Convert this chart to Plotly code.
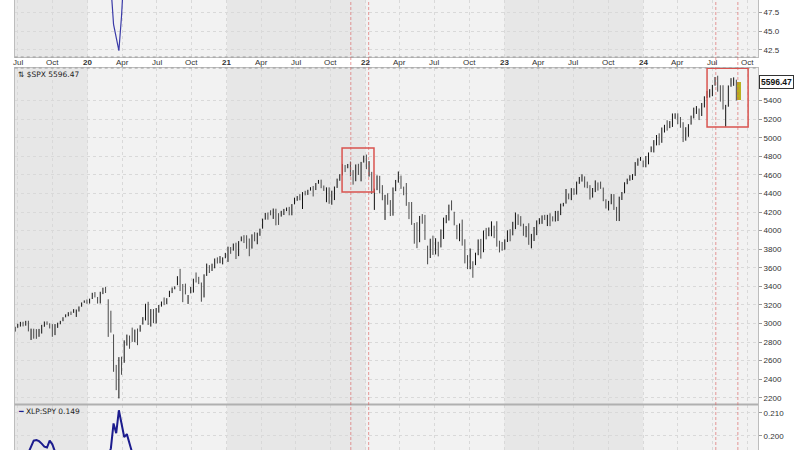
import pandas as pd
import plotly.graph_objects as go

# ---------------- data ----------------
# weekly $SPX bars (weeks starting 2019-06-24)
spx_open = [
    2934, 2971, 2980, 3013, 2981, 3017, 2899, 2896, 2898, 2866, 2909, 2981, 2996, 2983, 2968, 2944, 2965, 2996, 3035, 3078, 3081, 3123, 3117, 3143, 3141, 3183, 3225,
    3248, 3218, 3273, 3333, 3248, 3235, 3318, 3370, 3257, 2974, 2864, 2509, 2290, 2498, 2578, 2782, 2845, 2854, 2816, 2915, 2914, 3004, 3038, 3199, 2994, 3094,
    3018, 3155, 3191, 3224, 3219, 3288, 3357, 3380, 3419, 3507, 3370, 3364, 3296, 3334, 3367, 3500, 3493, 3441, 3296, 3584, 3600, 3566, 3654, 3698, 3675, 3684, 3723,
    3764, 3803, 3789, 3858, 3732, 3892, 3939, 3886, 3843, 3844, 3949, 3916, 3969, 4034, 4127, 4182, 4185, 4192, 4228, 4169, 4168, 4216, 4230, 4255, 4174,
    4285, 4348, 4373, 4296, 4410, 4407, 4439, 4464, 4450, 4514, 4535, 4474, 4402, 4450, 4348, 4385, 4463, 4548, 4610, 4697, 4689, 4712, 4640, 4549, 4710, 4587, 4733,
    4778, 4655, 4632, 4357, 4437, 4506, 4416, 4333, 4363, 4328, 4188, 4462, 4541, 4547, 4474, 4385, 4255, 4131, 4082, 4013, 3920, 4152, 4135, 3838, 3715,
    3920, 3816, 3880, 3884, 3967, 4113, 4157, 4270, 4195, 4042, 3910, 4084, 3872, 3682, 3610, 3593, 3638, 3754, 3884, 3789, 3977, 3956, 4006, 4053, 3939, 3853, 3843,
    3853, 3910, 3999, 3979, 4053, 4120, 4096, 4071, 3992, 4049, 3859, 3917, 3983, 4103, 4110, 4136, 4134, 4166, 4136, 4126, 4190, 4200, 4282, 4305, 4397, 4355,
    4450, 4405, 4505, 4544, 4578, 4492, 4454, 4389, 4415, 4518, 4475, 4446, 4320, 4284, 4289, 4320, 4220, 4139, 4364, 4407, 4515, 4554, 4590, 4607, 4725, 4758,
    4745, 4690, 4772, 4853, 4888, 4957, 5026, 5000, 5093, 5131, 5115, 5123, 5219, 5258, 5203, 5150, 4988, 5114, 5142, 5221, 5303, 5315,
    5298, 5341, 5432, 5459, 5471, 5572, 5616, 5518, 5476, 5151, 5350, 5555, 5637, 5623, 5442,
]
spx_high = [
    2964, 2996, 3017, 3018, 3028, 3029, 2944, 2943, 2939, 2941, 2985, 3021, 3022, 3002, 2993, 2993, 3008, 3028, 3067, 3098, 3121, 3128, 3154, 3150, 3183, 3226, 3248,
    3258, 3267, 3330, 3338, 3285, 3341, 3385, 3393, 3260, 3137, 2882, 2553, 2637, 2642, 2818, 2880, 2870, 2955, 2934, 2945, 2981, 3068, 3212, 3233, 3155, 3155,
    3166, 3199, 3236, 3280, 3272, 3352, 3387, 3400, 3509, 3588, 3425, 3429, 3306, 3393, 3482, 3549, 3502, 3441, 3529, 3645, 3628, 3644, 3700, 3712, 3726, 3712, 3760,
    3827, 3823, 3861, 3870, 3887, 3937, 3951, 3950, 3915, 3960, 3983, 3978, 4021, 4129, 4191, 4195, 4219, 4238, 4236, 4188, 4213, 4234, 4249, 4256, 4286,
    4355, 4372, 4393, 4415, 4429, 4440, 4468, 4481, 4513, 4546, 4549, 4486, 4466, 4466, 4430, 4475, 4560, 4608, 4718, 4707, 4718, 4744, 4652, 4713, 4720, 4740, 4808,
    4819, 4749, 4633, 4453, 4595, 4590, 4490, 4385, 4402, 4329, 4465, 4546, 4637, 4593, 4474, 4513, 4308, 4308, 4082, 4091, 4158, 4178, 4169, 3838, 3913,
    3946, 3918, 3880, 4013, 4140, 4168, 4280, 4326, 4203, 4062, 4077, 4119, 3907, 3736, 3807, 3670, 3762, 3905, 3911, 4001, 4029, 4034, 4100, 4053, 4101, 3891, 3878,
    3906, 4003, 4015, 4095, 4195, 4176, 4156, 4075, 4049, 4079, 3965, 4039, 4110, 4134, 4164, 4170, 4170, 4187, 4154, 4212, 4213, 4291, 4299, 4448, 4400, 4458,
    4456, 4528, 4578, 4607, 4584, 4528, 4490, 4459, 4541, 4519, 4528, 4464, 4338, 4320, 4394, 4393, 4256, 4366, 4416, 4521, 4560, 4597, 4609, 4738, 4778, 4793,
    4755, 4803, 4842, 4907, 4975, 5030, 5048, 5111, 5140, 5189, 5180, 5262, 5264, 5264, 5224, 5168, 5114, 5147, 5239, 5325, 5342, 5316,
    5375, 5447, 5505, 5524, 5570, 5655, 5669, 5566, 5566, 5355, 5564, 5643, 5651, 5626, 5600,
]
spx_low = [
    2912, 2953, 2966, 2968, 2976, 2914, 2822, 2836, 2834, 2856, 2891, 2964, 2985, 2946, 2856, 2874, 2952, 2991, 3024, 3066, 3077, 3091, 3114, 3070, 3128, 3180, 3222,
    3212, 3214, 3263, 3280, 3214, 3215, 3316, 3328, 2855, 2901, 2479, 2281, 2192, 2447, 2576, 2761, 2727, 2801, 2798, 2766, 2911, 2987, 3032, 2983, 2966, 3004,
    2999, 3116, 3181, 3197, 3209, 3284, 3327, 3368, 3412, 3349, 3229, 3313, 3210, 3324, 3332, 3441, 3424, 3234, 3280, 3512, 3543, 3565, 3594, 3645, 3648, 3636, 3702,
    3663, 3750, 3784, 3694, 3725, 3885, 3866, 3805, 3724, 3806, 3885, 3853, 3944, 4021, 4118, 4118, 4165, 4126, 4057, 4061, 4151, 4168, 4210, 4165, 4165,
    4283, 4321, 4327, 4233, 4380, 4385, 4431, 4368, 4437, 4505, 4457, 4428, 4306, 4289, 4279, 4329, 4460, 4537, 4595, 4631, 4672, 4585, 4495, 4532, 4600, 4531, 4733,
    4662, 4582, 4395, 4223, 4436, 4401, 4327, 4115, 4279, 4157, 4161, 4425, 4517, 4450, 4381, 4267, 4124, 4062, 3859, 3811, 3875, 4074, 3900, 3637, 3705,
    3738, 3743, 3722, 3819, 3910, 4080, 4108, 4218, 4057, 3907, 3886, 3838, 3647, 3585, 3584, 3492, 3628, 3735, 3698, 3767, 3906, 3940, 3939, 3919, 3827, 3765, 3783,
    3794, 3877, 3885, 3949, 4016, 4061, 4047, 3944, 3928, 3847, 3809, 3888, 3951, 4069, 4073, 4114, 4049, 4048, 4099, 4098, 4103, 4167, 4261, 4291, 4337, 4328,
    4385, 4389, 4504, 4528, 4464, 4457, 4335, 4356, 4415, 4431, 4450, 4317, 4238, 4217, 4284, 4223, 4104, 4103, 4330, 4402, 4500, 4537, 4546, 4589, 4699, 4752,
    4683, 4682, 4714, 4845, 4842, 4918, 4920, 4946, 5057, 5077, 5104, 5117, 5204, 5147, 5108, 4954, 4969, 5011, 5142, 5209, 5257, 5191,
    5235, 5327, 5429, 5434, 5448, 5562, 5497, 5390, 5305, 5120, 5335, 5550, 5560, 5402, 5406,
]
spx_close = [
    2942, 2990, 3014, 2977, 3026, 2932, 2919, 2889, 2847, 2926, 2979, 3007, 2992, 2962, 2952, 2970, 2986, 3023, 3067, 3093, 3120, 3110, 3141, 3146, 3169, 3221, 3240,
    3235, 3265, 3330, 3295, 3226, 3328, 3380, 3338, 2954, 2972, 2711, 2305, 2541, 2489, 2790, 2875, 2837, 2831, 2930, 2864, 2955, 3044, 3194, 3041, 3098, 3009,
    3130, 3185, 3225, 3216, 3271, 3351, 3373, 3397, 3508, 3427, 3341, 3319, 3298, 3348, 3477, 3484, 3465, 3270, 3509, 3585, 3558, 3638, 3699, 3663, 3709, 3703, 3756,
    3825, 3768, 3841, 3714, 3887, 3935, 3907, 3811, 3842, 3943, 3913, 3975, 4020, 4129, 4185, 4180, 4181, 4233, 4174, 4156, 4204, 4230, 4247, 4166, 4281,
    4352, 4370, 4327, 4412, 4395, 4437, 4468, 4442, 4509, 4535, 4459, 4433, 4455, 4357, 4391, 4471, 4545, 4605, 4698, 4683, 4698, 4595, 4538, 4712, 4621, 4726, 4766,
    4677, 4663, 4398, 4432, 4501, 4419, 4349, 4385, 4329, 4204, 4463, 4543, 4546, 4488, 4393, 4272, 4132, 4123, 4024, 3901, 4158, 4109, 3901, 3675, 3912,
    3825, 3899, 3863, 3962, 4130, 4145, 4280, 4228, 4058, 3924, 4067, 3873, 3693, 3586, 3640, 3583, 3753, 3901, 3771, 3993, 3965, 4026, 4072, 3934, 3852, 3845, 3840,
    3895, 3999, 3973, 4071, 4136, 4090, 4079, 3970, 4046, 3862, 3917, 3971, 4109, 4105, 4138, 4134, 4169, 4136, 4124, 4192, 4205, 4282, 4299, 4410, 4348, 4450,
    4399, 4505, 4536, 4582, 4478, 4464, 4370, 4406, 4516, 4457, 4450, 4320, 4288, 4309, 4328, 4224, 4117, 4358, 4415, 4514, 4559, 4595, 4604, 4719, 4755, 4770,
    4697, 4784, 4840, 4891, 4959, 5027, 5006, 5089, 5137, 5124, 5117, 5234, 5254, 5204, 5123, 4967, 5100, 5128, 5223, 5303, 5305, 5278,
    5347, 5432, 5465, 5460, 5567, 5615, 5505, 5459, 5347, 5344, 5554, 5635, 5648, 5408, 5596.47,
]
n = min(len(spx_open), len(spx_high), len(spx_low), len(spx_close))
week_start = pd.date_range("2019-06-24", periods=n, freq="W-MON")

# upper indicator panel (only the part that dips into view)
ind_dates = ["2020-02-17", "2020-02-24", "2020-03-02", "2020-03-09", "2020-03-16",
             "2020-03-23", "2020-03-30", "2020-04-06", "2020-04-13"]
ind_values = [60, 56, 51, 45.9, 44.3, 42.4, 47.0, 54, 60]

# XLP:SPY ratio
ratio_dates = ["2019-06-24", "2019-07-08", "2019-07-22", "2019-07-29", "2019-08-05", "2019-08-12",
               "2019-08-19", "2019-08-26", "2019-09-02", "2019-09-09", "2019-09-16", "2019-09-23",
               "2019-09-30", "2019-10-07", "2019-10-21", "2019-11-18", "2019-12-16", "2020-01-13",
               "2020-02-10", "2020-02-24", "2020-03-02", "2020-03-09", "2020-03-16", "2020-03-23",
               "2020-03-30", "2020-04-06", "2020-04-13", "2020-04-20", "2020-04-27", "2020-06-15",
               "2020-09-14", "2020-12-14", "2021-03-15", "2021-06-14", "2021-09-13", "2021-12-13",
               "2022-03-14", "2022-06-13", "2022-09-12", "2022-12-12", "2023-03-13", "2023-06-12",
               "2023-09-11", "2023-12-11", "2024-03-11", "2024-06-10", "2024-09-09"]
ratio_values = [0.1915, 0.1905, 0.1900, 0.1925, 0.1950, 0.1978, 0.1981, 0.1976, 0.1965, 0.1952,
                0.1948, 0.1978, 0.1962, 0.1930, 0.1905, 0.1870, 0.1850, 0.1850, 0.1860, 0.1905,
                0.1945, 0.2054, 0.2011, 0.2112, 0.2060, 0.1994, 0.2007, 0.1955, 0.1925, 0.1850,
                0.1790, 0.1750, 0.1700, 0.1680, 0.1660, 0.1680, 0.1720, 0.1800, 0.1820, 0.1860,
                0.1780, 0.1690, 0.1650, 0.1590, 0.1510, 0.1480, 0.1490]

spx_last = 5596.47
ratio_last = 0.149

# annotations: marker lines and highlight boxes
marker_dates = ["2021-11-23", "2022-01-09", "2024-07-10", "2024-09-06"]
box_x0 = ["2021-10-31", "2024-06-17"]
box_x1 = ["2022-01-23", "2024-10-03"]
box_y0 = [4416, 5117]
box_y1 = [4890, 5750]

main_ticks = list(range(2200, 5401, 200))
top_ticks = [42.5, 45.0, 47.5]
bottom_ticks = [0.200, 0.210]
shade_years = [2019, 2021, 2023]

x_start, x_end = "2019-06-23", "2024-10-29"

# ---------------- figure ----------------
W, H = 800, 450
def py(px):
    return 1 - px / H

xdom = [14.7 / W, 758 / W]
top_dom = [py(57), 1.0]
main_dom = [py(404), py(68)]
bot_dom = [0.0, py(405)]

fig = go.Figure()

fig.add_trace(go.Scatter(x=ind_dates, y=ind_values, mode="lines",
                         line=dict(color="#3b3ba8", width=1.2),
                         xaxis="x", yaxis="y", showlegend=False, hoverinfo="skip"))

fig.add_trace(go.Ohlc(x=week_start[:n - 1], open=spx_open[:n - 1], high=spx_high[:n - 1],
                      low=spx_low[:n - 1], close=spx_close[:n - 1],
                      increasing=dict(line=dict(color="#111111", width=1)),
                      decreasing=dict(line=dict(color="#4a4a4a", width=1)),
                      tickwidth=0.5, xaxis="x2", yaxis="y2", showlegend=False))
# current (last) week highlighted
fig.add_trace(go.Ohlc(x=week_start[n - 1:], open=spx_open[n - 1:], high=spx_high[n - 1:],
                      low=spx_low[n - 1:], close=spx_close[n - 1:],
                      increasing=dict(line=dict(color="#b9b01c", width=4)),
                      decreasing=dict(line=dict(color="#b9b01c", width=4)),
                      tickwidth=0.5, xaxis="x2", yaxis="y2", showlegend=False))

fig.add_trace(go.Scatter(x=ratio_dates, y=ratio_values, mode="lines",
                         line=dict(color="#1c1c8e", width=2),
                         xaxis="x3", yaxis="y3", showlegend=False, hoverinfo="skip"))

tick_dates = pd.date_range("2019-07-01", "2024-10-01", freq="QS")
tick_text = [("<b>%02d</b>" % (d.year % 100)) if d.month == 1 else d.strftime("%b") for d in tick_dates]

axis_font = dict(family="Liberation Sans, Arial, sans-serif", size=8, color="#333333")
xcommon = dict(range=[x_start, x_end], type="date", domain=xdom, tickvals=tick_dates,
               showticklabels=False, ticks="", showgrid=True, gridcolor="#d9d9d9",
               griddash="dot", gridwidth=1, showline=True, linecolor="#bdbdbd",
               linewidth=1, mirror=True, zeroline=False, rangeslider=dict(visible=False))
ycommon = dict(side="right", showgrid=True, gridcolor="#d9d9d9", griddash="dot",
               showline=True, linecolor="#bdbdbd", linewidth=1, mirror=True,
               ticks="outside", ticklen=3, tickcolor="#999999", tickfont=axis_font,
               zeroline=False)

fig.update_layout(
    width=W, height=H, margin=dict(l=0, r=0, t=0, b=0),
    paper_bgcolor="white", plot_bgcolor="#f2f2f2",
    xaxis=dict(anchor="y", **xcommon),
    xaxis2=dict(anchor="y2", matches="x", **xcommon),
    xaxis3=dict(anchor="y3", matches="x", **xcommon),
    yaxis=dict(domain=top_dom, anchor="x", range=[41.57, 49.13], tickvals=top_ticks,
               tickformat=".1f", **ycommon),
    yaxis2=dict(domain=main_dom, anchor="x2", range=[2132, 5752], tickvals=main_ticks,
                tickformat="d", **ycommon),
    yaxis3=dict(domain=bot_dom, anchor="x3", range=[0.1937, 0.21352],
                tickvals=bottom_ticks, tickformat=".3f", **ycommon),
    showlegend=False,
    hovermode=False,
)

shapes = []
# alternating year shading
for yr in shade_years:
    x0 = max(pd.Timestamp(f"{yr}-01-01"), pd.Timestamp(x_start))
    x1 = min(pd.Timestamp(f"{yr + 1}-01-01"), pd.Timestamp(x_end))
    for xr, yr_ref in (("x", "y domain"), ("x2", "y2 domain"), ("x3", "y3 domain")):
        shapes.append(dict(type="rect", xref=xr, yref=yr_ref, x0=x0, x1=x1, y0=0, y1=1,
                           fillcolor="#e7e7e7", line=dict(width=0), layer="below"))
# date strip dotted borders
for ypx in (57, 68):
    shapes.append(dict(type="line", xref="paper", yref="paper", x0=xdom[0], x1=xdom[1],
                       y0=py(ypx), y1=py(ypx), line=dict(color="#9a9a9a", width=1, dash="dot")))
# separator between price and ratio panel
shapes.append(dict(type="line", xref="paper", yref="paper", x0=xdom[0], x1=xdom[1],
                   y0=py(404.5), y1=py(404.5), line=dict(color="#b0b0b0", width=2)))
# red dashed event lines
for d in marker_dates:
    shapes.append(dict(type="line", xref="x", yref="paper", x0=d, x1=d, y0=0, y1=1,
                       line=dict(color="rgba(220,90,90,0.6)", width=1, dash="3px,2px")))
# red highlight boxes
for a, b, c, e in zip(box_x0, box_x1, box_y0, box_y1):
    shapes.append(dict(type="rect", xref="x2", yref="y2", x0=a, x1=b, y0=c, y1=e,
                       line=dict(color="#d9534f", width=1.5), fillcolor="rgba(0,0,0,0)"))
fig.update_layout(shapes=shapes)

ann = []
for d, t in zip(tick_dates, tick_text):
    ann.append(dict(x=d, xref="x", y=py(62.5), yref="paper", text=t, showarrow=False,
                    xanchor="center", yanchor="middle", font=axis_font))
label_font = dict(family="DejaVu Sans, Verdana, sans-serif", size=7.5, color="#222222")
ann.append(dict(x=16 / W, xref="paper", y=py(75), yref="paper", xanchor="left", yanchor="middle",
                text="⇅ $SPX %.2f" % spx_last, showarrow=False, font=label_font))
ann.append(dict(x=16 / W, xref="paper", y=py(411), yref="paper", xanchor="left", yanchor="middle",
                text='<span style="color:#1c1c8e">━</span> XLP:SPY %.3f' % ratio_last,
                showarrow=False, font=label_font))
ann.append(dict(x=758.5 / W, xref="paper", y=spx_last, yref="y2", xanchor="left", yanchor="middle",
                text="<b>%.2f</b>" % spx_last, showarrow=False, bgcolor="white",
                bordercolor="#333333", borderwidth=1, borderpad=1,
                font=dict(family="Liberation Sans, Arial, sans-serif", size=8.5, color="#111111")))
fig.update_layout(annotations=ann)

fig.write_html("out.html", config={"displayModeBar": False, "staticPlot": True},
               post_script="document.body.style.margin='0';document.body.style.overflow='hidden';")
